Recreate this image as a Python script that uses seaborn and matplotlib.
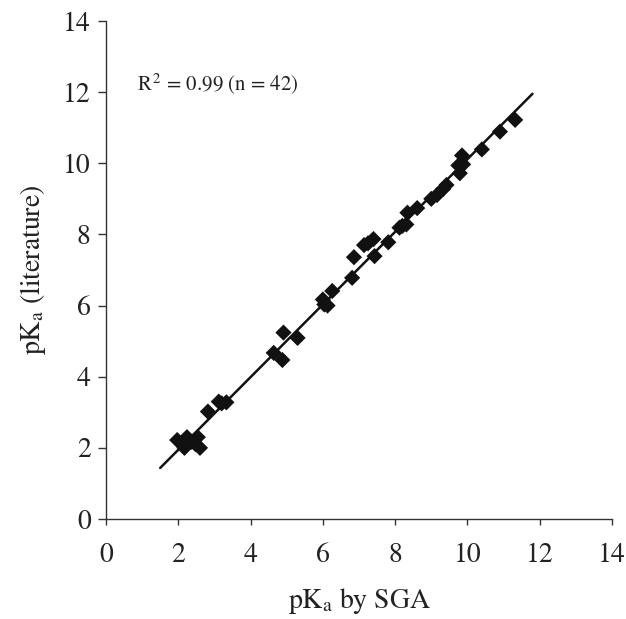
import numpy as np
import pandas as pd
import matplotlib
matplotlib.use("Agg")
import matplotlib.pyplot as plt
import seaborn as sns

# Data
pka_sga = [1.97, 2.17, 2.24, 2.37, 2.48, 2.54, 2.60, 2.82, 3.12, 3.20, 3.33,
           4.64, 4.88, 4.91, 5.30, 6.00, 6.04, 6.13, 6.26, 6.81, 6.86, 7.14,
           7.25, 7.40, 7.43, 7.81, 8.12, 8.20, 8.31, 8.34, 8.61, 9.00, 9.16,
           9.33, 9.42, 9.79, 9.75, 9.88, 9.85, 10.40, 10.90, 11.32]
pka_lit = [2.22, 2.00, 2.30, 2.17, 2.10, 2.30, 2.00, 3.02, 3.30, 3.25, 3.28,
           4.67, 4.47, 5.24, 5.09, 6.17, 6.03, 6.00, 6.41, 6.78, 7.36, 7.70,
           7.75, 7.87, 7.39, 7.78, 8.19, 8.24, 8.28, 8.61, 8.74, 9.00, 9.11,
           9.28, 9.39, 9.72, 9.94, 9.97, 10.22, 10.39, 10.89, 11.22]
fit_range = [1.5, 11.8]
ticks = [0, 2, 4, 6, 8, 10, 12, 14]
annotation = "R$^{\\,2}$ = 0.99 (n = 42)"

df = pd.DataFrame({"sga": pka_sga, "lit": pka_lit})

sns.set_style("white")
plt.rcParams["font.family"] = ["STIXGeneral", "Liberation Serif", "DejaVu Serif"]
plt.rcParams["mathtext.fontset"] = "stix"

fig = plt.figure(figsize=(6.26, 6.19), dpi=100)
ax = fig.add_axes([106/626, 1 - 519/619, (612-106)/626, (519-21)/619])

slope, intercept = np.polyfit(df["sga"], df["lit"], 1)
xl = np.array(fit_range)
sns.lineplot(x=xl, y=slope * xl + intercept, ax=ax, color="#111111", linewidth=1.8)
sns.scatterplot(data=df, x="sga", y="lit", ax=ax, marker="D", s=68,
                color="#111111", edgecolor="none", zorder=3)

ax.set_xlim(0, 14)
ax.set_ylim(0, 14)
ax.set_xticks(ticks)
ax.set_yticks(ticks)
ax.tick_params(axis="both", direction="out", length=6, width=1, labelsize=20,
               color="#333333", labelcolor="#222222", bottom=True, left=True, pad=8)
ax.tick_params(axis="y", pad=5)
ax.tick_params(axis="x", length=4, pad=13)
for s in ["top", "right"]:
    ax.spines[s].set_visible(False)
for s in ["left", "bottom"]:
    ax.spines[s].set_color("#333333")
    ax.spines[s].set_linewidth(1)

ax.set_xlabel("pK$_{\\mathrm{a}}$ by SGA", fontsize=20, color="#222222", labelpad=13)
ax.set_ylabel("pK$_{\\mathrm{a}}$ (literature)", fontsize=20, color="#222222", labelpad=11)
ax.text(0.85, 12.22, annotation, fontsize=15, color="#222222", va="center", ha="left")

fig.savefig("out.png", dpi=100)
